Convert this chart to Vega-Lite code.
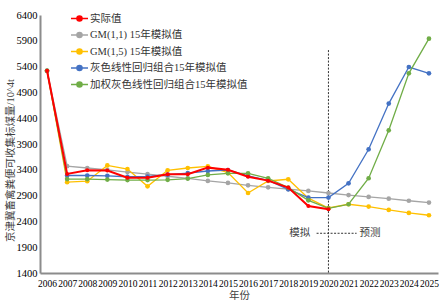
{
  "$schema": "https://vega.github.io/schema/vega-lite/v6.json",
  "width": 398,
  "height": 258,
  "autosize": {"type": "none"},
  "padding": {"left": 40, "top": 15, "right": 1, "bottom": 29},
  "background": "white",
  "config": {
    "view": {"stroke": null},
    "axis": {
      "labelFont": "Liberation Serif",
      "labelFontSize": 10,
      "labelColor": "#000000",
      "labelOverlap": false,
      "titleFont": "Liberation Serif, Noto Sans CJK SC",
      "titleFontSize": 10.5,
      "titleFontWeight": "normal",
      "titleColor": "#404040",
      "domainColor": "#8c8c8c",
      "domainWidth": 2,
      "ticks": false,
      "grid": false
    }
  },
  "datasets": {
    "series": [
      {"year": 2006, "series": "实际值", "value": 5320},
      {"year": 2007, "series": "实际值", "value": 3320},
      {"year": 2008, "series": "实际值", "value": 3390},
      {"year": 2009, "series": "实际值", "value": 3385},
      {"year": 2010, "series": "实际值", "value": 3245},
      {"year": 2011, "series": "实际值", "value": 3245},
      {"year": 2012, "series": "实际值", "value": 3315},
      {"year": 2013, "series": "实际值", "value": 3315},
      {"year": 2014, "series": "实际值", "value": 3442},
      {"year": 2015, "series": "实际值", "value": 3400},
      {"year": 2016, "series": "实际值", "value": 3265},
      {"year": 2017, "series": "实际值", "value": 3190},
      {"year": 2018, "series": "实际值", "value": 3055},
      {"year": 2019, "series": "实际值", "value": 2698},
      {"year": 2020, "series": "实际值", "value": 2635},

      {"year": 2006, "series": "GM(1,1) 15年模拟值", "value": 5320},
      {"year": 2007, "series": "GM(1,1) 15年模拟值", "value": 3470},
      {"year": 2008, "series": "GM(1,1) 15年模拟值", "value": 3435},
      {"year": 2009, "series": "GM(1,1) 15年模拟值", "value": 3400},
      {"year": 2010, "series": "GM(1,1) 15年模拟值", "value": 3355},
      {"year": 2011, "series": "GM(1,1) 15年模拟值", "value": 3315},
      {"year": 2012, "series": "GM(1,1) 15年模拟值", "value": 3275},
      {"year": 2013, "series": "GM(1,1) 15年模拟值", "value": 3235},
      {"year": 2014, "series": "GM(1,1) 15年模拟值", "value": 3185},
      {"year": 2015, "series": "GM(1,1) 15年模拟值", "value": 3145},
      {"year": 2016, "series": "GM(1,1) 15年模拟值", "value": 3100},
      {"year": 2017, "series": "GM(1,1) 15年模拟值", "value": 3060},
      {"year": 2018, "series": "GM(1,1) 15年模拟值", "value": 3025},
      {"year": 2019, "series": "GM(1,1) 15年模拟值", "value": 2990},
      {"year": 2020, "series": "GM(1,1) 15年模拟值", "value": 2950},
      {"year": 2021, "series": "GM(1,1) 15年模拟值", "value": 2910},
      {"year": 2022, "series": "GM(1,1) 15年模拟值", "value": 2875},
      {"year": 2023, "series": "GM(1,1) 15年模拟值", "value": 2840},
      {"year": 2024, "series": "GM(1,1) 15年模拟值", "value": 2800},
      {"year": 2025, "series": "GM(1,1) 15年模拟值", "value": 2765},

      {"year": 2006, "series": "GM(1,5) 15年模拟值", "value": 5320},
      {"year": 2007, "series": "GM(1,5) 15年模拟值", "value": 3160},
      {"year": 2008, "series": "GM(1,5) 15年模拟值", "value": 3180},
      {"year": 2009, "series": "GM(1,5) 15年模拟值", "value": 3485},
      {"year": 2010, "series": "GM(1,5) 15年模拟值", "value": 3415},
      {"year": 2011, "series": "GM(1,5) 15年模拟值", "value": 3080},
      {"year": 2012, "series": "GM(1,5) 15年模拟值", "value": 3390},
      {"year": 2013, "series": "GM(1,5) 15年模拟值", "value": 3435},
      {"year": 2014, "series": "GM(1,5) 15年模拟值", "value": 3468},
      {"year": 2015, "series": "GM(1,5) 15年模拟值", "value": 3345},
      {"year": 2016, "series": "GM(1,5) 15年模拟值", "value": 2950},
      {"year": 2017, "series": "GM(1,5) 15年模拟值", "value": 3183},
      {"year": 2018, "series": "GM(1,5) 15年模拟值", "value": 3216},
      {"year": 2019, "series": "GM(1,5) 15年模拟值", "value": 2850},
      {"year": 2020, "series": "GM(1,5) 15年模拟值", "value": 2660},
      {"year": 2021, "series": "GM(1,5) 15年模拟值", "value": 2732},
      {"year": 2022, "series": "GM(1,5) 15年模拟值", "value": 2687},
      {"year": 2023, "series": "GM(1,5) 15年模拟值", "value": 2622},
      {"year": 2024, "series": "GM(1,5) 15年模拟值", "value": 2564},
      {"year": 2025, "series": "GM(1,5) 15年模拟值", "value": 2519},

      {"year": 2006, "series": "灰色线性回归组合15年模拟值", "value": 5320},
      {"year": 2007, "series": "灰色线性回归组合15年模拟值", "value": 3290},
      {"year": 2008, "series": "灰色线性回归组合15年模拟值", "value": 3290},
      {"year": 2009, "series": "灰色线性回归组合15年模拟值", "value": 3283},
      {"year": 2010, "series": "灰色线性回归组合15年模拟值", "value": 3265},
      {"year": 2011, "series": "灰色线性回归组合15年模拟值", "value": 3270},
      {"year": 2012, "series": "灰色线性回归组合15年模拟值", "value": 3305},
      {"year": 2013, "series": "灰色线性回归组合15年模拟值", "value": 3335},
      {"year": 2014, "series": "灰色线性回归组合15年模拟值", "value": 3377},
      {"year": 2015, "series": "灰色线性回归组合15年模拟值", "value": 3396},
      {"year": 2016, "series": "灰色线性回归组合15年模拟值", "value": 3280},
      {"year": 2017, "series": "灰色线性回归组合15年模拟值", "value": 3196},
      {"year": 2018, "series": "灰色线性回归组合15年模拟值", "value": 3022},
      {"year": 2019, "series": "灰色线性回归组合15年模拟值", "value": 2861},
      {"year": 2020, "series": "灰色线性回归组合15年模拟值", "value": 2861},
      {"year": 2021, "series": "灰色线性回归组合15年模拟值", "value": 3138},
      {"year": 2022, "series": "灰色线性回归组合15年模拟值", "value": 3797},
      {"year": 2023, "series": "灰色线性回归组合15年模拟值", "value": 4683},
      {"year": 2024, "series": "灰色线性回归组合15年模拟值", "value": 5392},
      {"year": 2025, "series": "灰色线性回归组合15年模拟值", "value": 5270},

      {"year": 2006, "series": "加权灰色线性回归组合15年模拟值", "value": 5320},
      {"year": 2007, "series": "加权灰色线性回归组合15年模拟值", "value": 3220},
      {"year": 2008, "series": "加权灰色线性回归组合15年模拟值", "value": 3220},
      {"year": 2009, "series": "加权灰色线性回归组合15年模拟值", "value": 3210},
      {"year": 2010, "series": "加权灰色线性回归组合15年模拟值", "value": 3200},
      {"year": 2011, "series": "加权灰色线性回归组合15年模拟值", "value": 3200},
      {"year": 2012, "series": "加权灰色线性回归组合15年模拟值", "value": 3205},
      {"year": 2013, "series": "加权灰色线性回归组合15年模拟值", "value": 3230},
      {"year": 2014, "series": "加权灰色线性回归组合15年模拟值", "value": 3300},
      {"year": 2015, "series": "加权灰色线性回归组合15年模拟值", "value": 3332},
      {"year": 2016, "series": "加权灰色线性回归组合15年模拟值", "value": 3332},
      {"year": 2017, "series": "加权灰色线性回归组合15年模拟值", "value": 3236},
      {"year": 2018, "series": "加权灰色线性回归组合15年模拟值", "value": 3055},
      {"year": 2019, "series": "加权灰色线性回归组合15年模拟值", "value": 2809},
      {"year": 2020, "series": "加权灰色线性回归组合15年模拟值", "value": 2654},
      {"year": 2021, "series": "加权灰色线性回归组合15年模拟值", "value": 2732},
      {"year": 2022, "series": "加权灰色线性回归组合15年模拟值", "value": 3236},
      {"year": 2023, "series": "加权灰色线性回归组合15年模拟值", "value": 4165},
      {"year": 2024, "series": "加权灰色线性回归组合15年模拟值", "value": 5270},
      {"year": 2025, "series": "加权灰色线性回归组合15年模拟值", "value": 5942}
    ],
    "vline": [{"year": 2020, "value": 5720, "value2": 1400}],
    "hline": [{"year": 2019.41, "year2": 2021.4, "value": 2170}],
    "notes": [
      {"year": 2018.57, "value": 2170, "label": "模拟"},
      {"year": 2022.07, "value": 2170, "label": "预测"}
    ]
  },
  "layer": [
    {
      "data": {"name": "series"},
      "transform": [{"filter": "datum.series !== '实际值'"}],
      "mark": {"type": "line", "strokeWidth": 1.3},
      "encoding": {
        "x": {
          "field": "year", "type": "quantitative",
          "scale": {"domain": [2005.65, 2025.45], "nice": false, "zero": false},
          "axis": {
            "values": [2006, 2007, 2008, 2009, 2010, 2011, 2012, 2013, 2014, 2015, 2016, 2017, 2018, 2019, 2020, 2021, 2022, 2023, 2024, 2025],
            "tickCount": 40,
            "format": "d", "labelFlush": false, "labelOverlap": false, "labelPadding": 5, "labelFontSize": 9.5,
            "title": "年份", "titlePadding": 3
          }
        },
        "y": {
          "field": "value", "type": "quantitative",
          "scale": {"domain": [1400, 6400], "nice": false, "zero": false},
          "axis": {
            "values": [1400, 1900, 2400, 2900, 3400, 3900, 4400, 4900, 5400, 5900, 6400],
            "tickCount": 40,
            "format": "d", "labelPadding": 3, "labelOverlap": false, "labelFontSize": 10.5,
            "title": "京津冀畜禽粪便可收集标煤量/10^4t",
            "titleX": -30, "titleY": 145, "titleBaseline": "middle", "titleAlign": "center", "titleAngle": -90
          }
        },
        "color": {
          "field": "series", "type": "nominal",
          "scale": {
            "domain": ["实际值", "GM(1,1) 15年模拟值", "GM(1,5) 15年模拟值", "灰色线性回归组合15年模拟值", "加权灰色线性回归组合15年模拟值"],
            "range": ["#FF0000", "#A5A5A5", "#FFC000", "#4472C4", "#70AD47"]
          },
          "legend": {
            "title": null,
            "orient": "none",
            "legendX": 30,
            "legendY": -6,
            "labelFont": "Liberation Serif, Noto Sans CJK SC",
            "labelFontSize": 10.5,
            "labelColor": "#333333",
            "labelLimit": 300,
            "labelOffset": 1,
            "rowPadding": 0.5,
            "symbolType": "M-1,0L1,0M-0.3,0A0.3,0.3 0 1,0 0.3,0A0.3,0.3 0 1,0 -0.3,0Z",
            "symbolSize": 289,
            "symbolStrokeWidth": 1.5,
            "encode": {
              "symbols": {
                "update": {
                  "fill": {"scale": "color", "field": "value"},
                  "stroke": {"scale": "color", "field": "value"}
                }
              }
            }
          }
        }
      }
    },
    {
      "data": {"name": "vline"},
      "mark": {"type": "rule", "color": "#333333", "strokeWidth": 1, "strokeDash": [2, 1.5]},
      "encoding": {
        "x": {"field": "year", "type": "quantitative"},
        "y": {"field": "value", "type": "quantitative"},
        "y2": {"field": "value2"}
      }
    },
    {
      "data": {"name": "hline"},
      "mark": {"type": "rule", "color": "#333333", "strokeWidth": 1, "strokeDash": [2, 1.5]},
      "encoding": {
        "x": {"field": "year", "type": "quantitative"},
        "x2": {"field": "year2"},
        "y": {"field": "value", "type": "quantitative"}
      }
    },
    {
      "data": {"name": "notes"},
      "mark": {"type": "text", "font": "Liberation Serif, Noto Sans CJK SC", "fontSize": 10.5, "color": "#404040", "baseline": "middle", "align": "center"},
      "encoding": {
        "x": {"field": "year", "type": "quantitative"},
        "y": {"field": "value", "type": "quantitative"},
        "text": {"field": "label"}
      }
    },
    {
      "data": {"name": "series"},
      "transform": [{"filter": "datum.series !== '实际值'"}],
      "mark": {"type": "point", "filled": true, "size": 22, "opacity": 1},
      "encoding": {
        "x": {"field": "year", "type": "quantitative"},
        "y": {"field": "value", "type": "quantitative"},
        "color": {"field": "series", "type": "nominal"}
      }
    },
    {
      "data": {"name": "series"},
      "transform": [{"filter": "datum.series === '实际值'"}],
      "mark": {"type": "line", "strokeWidth": 2},
      "encoding": {
        "x": {"field": "year", "type": "quantitative"},
        "y": {"field": "value", "type": "quantitative"},
        "color": {"field": "series", "type": "nominal"}
      }
    },
    {
      "data": {"name": "series"},
      "transform": [{"filter": "datum.series === '实际值'"}],
      "mark": {"type": "point", "filled": true, "size": 16, "opacity": 1},
      "encoding": {
        "x": {"field": "year", "type": "quantitative"},
        "y": {"field": "value", "type": "quantitative"},
        "color": {"field": "series", "type": "nominal"}
      }
    }
  ]
}
